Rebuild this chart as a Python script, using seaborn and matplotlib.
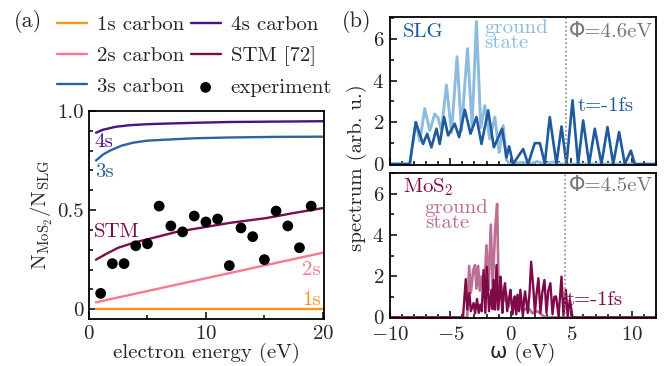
import numpy as np
import pandas as pd
import matplotlib
matplotlib.use("Agg")
import matplotlib.pyplot as plt
import seaborn as sns
from matplotlib.ticker import MultipleLocator

# ---- panel (a): ratio of emitted electrons ----
energy_1s = [0.6, 20.0]
ratio_1s = [0.0, 0.0]
energy_2s = [0.6, 20.0]
ratio_2s = [0.035, 0.285]
energy_3s = [0.6, 1.2, 1.8, 2.8, 3.8, 5.0, 6.6, 9.0, 12.0, 16.0, 20.0]
ratio_3s = [0.75, 0.78, 0.80, 0.825, 0.84, 0.85, 0.855, 0.862, 0.866, 0.869, 0.87]
energy_4s = [0.6, 1.2, 2.3, 3.5, 5.0, 6.6, 9.0, 12.0, 16.0, 20.0]
ratio_4s = [0.89, 0.905, 0.92, 0.928, 0.933, 0.936, 0.94, 0.944, 0.946, 0.948]
energy_stm = [0.6, 1.5, 2.5, 3.8, 5.5, 7.5, 9.5, 12.0, 15.2, 17.5, 20.0]
ratio_stm = [0.25, 0.28, 0.31, 0.335, 0.36, 0.39, 0.41, 0.435, 0.46, 0.485, 0.51]
exp_energy = [1, 2, 3, 4, 5, 6, 7, 8, 9, 10, 11, 12, 13, 14, 15, 16, 17, 18, 19]
exp_ratio = [0.08, 0.23, 0.23, 0.32, 0.33, 0.52, 0.42, 0.39, 0.47, 0.44, 0.455,
             0.22, 0.41, 0.366, 0.25, 0.495, 0.42, 0.31, 0.52]

# ---- panel (b): spectra ----
slg_w = [-10, -8.35, -7.85, -7.25, -6.91, -6.56, -6.14, -5.87, -5.51, -5.18, -4.63,
         -4.27, -3.80, -3.33, -2.84, -2.42, -1.87, -1.40, -0.72, -0.36, -0.14, 0.19,
         1.02, 1.43, 1.98, 2.40, 2.81, 3.22, 3.77, 4.19, 4.60, 5.10, 5.56, 5.98, 6.47,
         6.94, 7.49, 7.99, 8.46, 8.95, 9.42, 9.92, 10.25, 12]
slg_s = [0, 0, 2.0, 0.96, 1.45, 0.8, 1.69, 0.96, 2.25, 1.37, 1.93,
         1.29, 2.6, 1.45, 2.25, 0.96, 2.57, 0.8, 1.69, 0.32, 0.85, 0,
         0.72, 0, 1.0, 1.0, 0.03, 2.25, 0, 1.8, 0, 3.05, 0, 2.09, 0,
         1.69, 0, 1.77, 0, 1.53, 0, 0.64, 0, 0]
slg_gs_w = [-10, -8.35, -7.85, -7.52, -7.11, -6.69, -6.28, -6.0, -5.73, -5.32, -4.9,
            -4.44, -4.08, -3.58, -3.2, -2.84, -2.48, -2.15, -1.74, -1.32, -0.96, -0.63,
            -0.36, -0.08, 1.0, 1.5, 2.2, 2.8, 3.5, 4.2, 10]
slg_gs_s = [0, 0, 2.0, 1.1, 2.65, 1.6, 2.4, 2.2, 1.6, 3.78, 1.5,
            5.14, 1.6, 5.53, 1.8, 6.83, 1.75, 2.8, 1.2, 2.25, 0.55, 1.85,
            0.2, 0, 0.08, 0, 0.12, 0, 0.1, 0, 0]

mos_w = [-10, -3.95, -3.72, -3.6, -3.42, -3.3, -3.07, -2.95, -2.79, -2.65, -2.52, -2.4,
         -2.25, -2.1, -1.98, -1.8, -1.6, -1.5, -1.43, -1.3, -1.18, -1.05, -0.95, -0.86,
         -0.7, -0.6, -0.48, -0.3, -0.15, -0.03, 0.15, 0.25, 0.33, 0.45, 0.55, 0.68, 0.79,
         1.0, 1.1, 1.18, 1.4, 1.55, 1.68, 1.85, 2.0, 2.12, 2.28, 2.45, 2.6, 2.78, 2.95,
         3.1, 3.27, 3.45, 3.6, 3.74, 3.95, 4.19, 4.35, 4.55, 4.7, 4.88, 5.1, 12]
mos_s = [0, 0, 1.86, 0.38, 1.18, 0.3, 0.7, 0.2, 0.9, 0.22, 0.62, 0.3,
         2.3, 0.22, 2.46, 0.3, 1.34, 0.4, 1.82, 0.38, 2.54, 0.38, 1.0, 1.98,
         0.22, 1.2, 1.66, 0.3, 0.9, 1.34, 0.15, 0.8, 1.02, 0.15, 1.1, 0.3, 1.34,
         0.06, 0.9, 1.26, 0.22, 1.2, 2.7, 1.5, 0.22, 1.1, 1.9, 0.22, 1.2, 1.82, 0.22,
         1.3, 1.66, 0.15, 1.0, 1.02, 0.06, 1.98, 0.1, 1.34, 0.05, 0.86, 0, 0]
mos_gs_w = [-10, -3.6, -3.44, -3.3, -3.1, -2.96, -2.84, -2.7, -2.56, -2.4, -2.2, -2.01,
            -1.85, -1.65, -1.5, -1.3, -1.13, -1.0, -0.8, -0.6, -0.4, -0.2, 0.0, 0.3,
            0.6, 1.0, 1.4, 1.8, 2.2, 2.6, 3.0, 12]
mos_gs_s = [0, 0, 2.5, 1.2, 2.3, 2.54, 1.4, 2.5, 1.3, 2.0, 1.2, 3.5,
            1.3, 4.5, 1.4, 4.2, 5.5, 1.2, 1.6, 0.8, 1.2, 0.5, 0.9, 0.4,
            0.7, 0.3, 0.5, 0.2, 0.3, 0.1, 0, 0]

phi_slg = 4.6
phi_mos = 4.5

C_1S = "#f7941d"
C_2S = "#f7798f"
C_3S = "#2b64a3"
C_4S = "#4b1287"
C_STM = "#7d0d4a"
C_SLG = "#1f5a9e"
C_SLG_GS = "#8cbbdf"
C_MOS = "#80094a"
C_MOS_GS = "#bb6f93"
C_PHI = "#777777"

FS = 15

sns.set_theme(style="ticks")
plt.rcParams["font.family"] = ["cmr10", "DejaVu Sans"]
plt.rcParams["mathtext.fontset"] = "cm"
plt.rcParams["axes.formatter.use_mathtext"] = True
plt.rcParams["font.size"] = FS
plt.rcParams["axes.labelsize"] = FS
plt.rcParams["axes.unicode_minus"] = True

fig = plt.figure(figsize=(6.64, 3.66), dpi=100)
ax_a = fig.add_axes([0.134, 0.128, 0.354, 0.569])
ax_t = fig.add_axes([0.587, 0.549, 0.401, 0.405])
ax_b = fig.add_axes([0.587, 0.131, 0.401, 0.396], sharex=ax_t)

lw = 1.7
sns.lineplot(x=energy_1s, y=ratio_1s, ax=ax_a, color=C_1S, lw=lw, label="1s carbon", estimator=None)
sns.lineplot(x=energy_2s, y=ratio_2s, ax=ax_a, color=C_2S, lw=lw, label="2s carbon", estimator=None)
sns.lineplot(x=energy_3s, y=ratio_3s, ax=ax_a, color=C_3S, lw=lw, label="3s carbon", estimator=None)
sns.lineplot(x=energy_4s, y=ratio_4s, ax=ax_a, color=C_4S, lw=lw, label="4s carbon", estimator=None)
sns.lineplot(x=energy_stm, y=ratio_stm, ax=ax_a, color=C_STM, lw=lw, label="STM [72]", estimator=None)
sns.scatterplot(x=exp_energy, y=exp_ratio, ax=ax_a, color="black", s=60, edgecolor="none",
                label="experiment", zorder=5)

handles, labels = ax_a.get_legend_handles_labels()
ax_a.get_legend().remove()
fig.legend(handles, labels, loc="upper left", bbox_to_anchor=(0.086, 0.957), ncol=2,
           frameon=False, fontsize=FS, handlelength=1.44, handletextpad=0.48,
           columnspacing=0.3, labelspacing=0.58, borderpad=0, borderaxespad=0)

ax_a.set_xlim(0, 20.1)
ax_a.set_ylim(-0.05, 1.0)
ax_a.set_xticks([0, 10, 20])
ax_a.set_yticks([0, 0.5, 1.0])
ax_a.set_yticklabels(["0", "0.5", "1.0"])
ax_a.yaxis.set_minor_locator(MultipleLocator(0.1))
ax_a.xaxis.set_minor_locator(MultipleLocator(5))
ax_a.set_xlabel("electron energy (eV)", labelpad=0)
ax_a.set_ylabel(r"$\mathrm{N}_{\mathrm{MoS}_2}/\mathrm{N}_{\mathrm{SLG}}$", labelpad=1)
ax_a.text(0.5, 0.845, "4s", color=C_4S, va="center", ha="left")
ax_a.text(0.5, 0.69, "3s", color=C_3S, va="center", ha="left")
ax_a.text(0.4, 0.39, "STM", color=C_STM, va="center", ha="left")
ax_a.text(19.8, 0.2, "2s", color=C_2S, va="center", ha="right")
ax_a.text(19.8, 0.045, "1s", color=C_1S, va="center", ha="right")

# top panel: SLG
sns.lineplot(x=slg_gs_w, y=slg_gs_s, ax=ax_t, color=C_SLG_GS, lw=2.1, estimator=None, sort=False)
sns.lineplot(x=slg_w, y=slg_s, ax=ax_t, color=C_SLG, lw=1.9, estimator=None, sort=False)
ax_t.axvline(phi_slg, color="#888888", ls=(0, (1, 1.5)), lw=1.2)
ax_t.text(-8.9, 6.3, "SLG", color=C_SLG, va="center", ha="left")
ax_t.text(-2.2, 6.95, "ground\nstate", color=C_SLG_GS, va="top", ha="left", linespacing=0.8)
ax_t.text(4.8, 6.3, f"Φ={phi_slg}eV", color=C_PHI, va="center", ha="left")
ax_t.text(5.5, 2.8, "t=-1fs", color=C_SLG, va="center", ha="left")
ax_t.set_ylim(-0.05, 7.05)
ax_t.set_yticks([0, 2, 4, 6])
ax_t.yaxis.set_minor_locator(MultipleLocator(1))
ax_t.tick_params(axis="x", labelbottom=False)

# bottom panel: MoS2
sns.lineplot(x=mos_gs_w, y=mos_gs_s, ax=ax_b, color=C_MOS_GS, lw=1.9, estimator=None, sort=False)
sns.lineplot(x=mos_w, y=mos_s, ax=ax_b, color=C_MOS, lw=1.7, estimator=None, sort=False)
ax_b.axvline(phi_mos, color="#888888", ls=(0, (1, 1.5)), lw=1.2)
ax_b.text(-8.9, 6.3, r"MoS$_2$", color=C_MOS, va="center", ha="left")
ax_b.text(-7.1, 5.75, "ground\nstate", color=C_MOS_GS, va="top", ha="left", linespacing=0.8)
ax_b.text(4.8, 6.35, f"Φ={phi_mos}eV", color=C_PHI, va="center", ha="left")
ax_b.text(4.6, 0.85, "t=-1fs", color=C_MOS, va="center", ha="left")
ax_b.set_ylim(-0.03, 7.0)
ax_b.set_yticks([0, 2, 4, 6])
ax_b.yaxis.set_minor_locator(MultipleLocator(1))
ax_b.set_xlim(-10, 12)
ax_b.set_xticks([-10, -5, 0, 5, 10])
ax_b.xaxis.set_minor_locator(MultipleLocator(1))
ax_b.set_xlabel("ω (eV)", labelpad=-1)

for ax in (ax_a, ax_t, ax_b):
    for sp in ax.spines.values():
        sp.set_visible(True)
        sp.set_linewidth(1.3)
        sp.set_color("black")
    ax.tick_params(which="both", direction="in", labelsize=FS, color="black", width=1.1, pad=4)
    ax.tick_params(which="major", length=5)
    ax.tick_params(which="minor", length=3)
ax_t.set_ylabel("")
ax_b.set_ylabel("")
ax_b.tick_params(axis="x", pad=6)

fig.text(0.537, 0.543, "spectrum (arb. u.)", rotation=90, va="center", ha="center", fontsize=FS)
fig.text(0.021, 0.94, "(a)", fontsize=FS + 1, va="center", ha="left")
fig.text(0.515, 0.94, "(b)", fontsize=FS + 1, va="center", ha="left")

fig.savefig("out.png", dpi=100)
